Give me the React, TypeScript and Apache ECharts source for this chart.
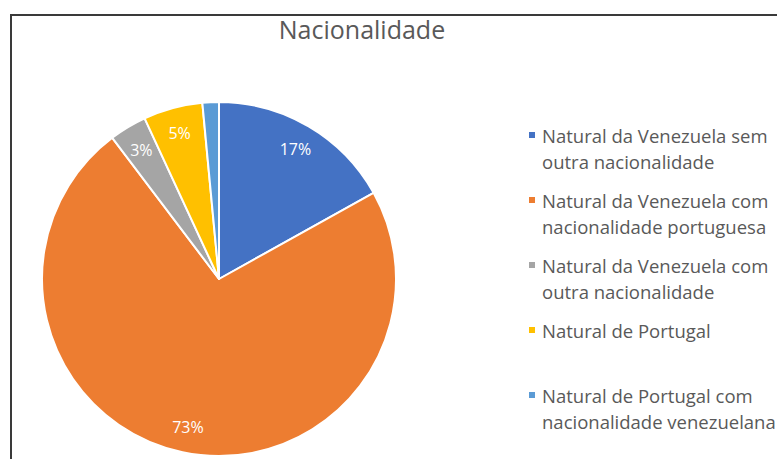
import React, { useEffect, useRef } from "react";
import * as echarts from "echarts";

const titleText = "Nacionalidade";
const categories = [
  "Natural da Venezuela sem outra nacionalidade",
  "Natural da Venezuela com nacionalidade portuguesa",
  "Natural da Venezuela com outra nacionalidade",
  "Natural de Portugal",
  "Natural de Portugal com nacionalidade venezuelana",
];
const legendLines = [
  " \nNatural da Venezuela sem\noutra nacionalidade",
  " \nNatural da Venezuela com\nnacionalidade portuguesa",
  " \nNatural da Venezuela com\noutra nacionalidade",
  " \nNatural de Portugal\n ",
  " \nNatural de Portugal com\nnacionalidade venezuelana",
];
const values = [16.9, 72.8, 3.4, 5.4, 1.5];
const colors = ["#4472C4", "#ED7D31", "#A5A5A5", "#FFC000", "#5B9BD5"];
const showLabel = [true, true, true, true, false];

export default function App() {
  const ref = useRef<HTMLDivElement>(null);
  useEffect(() => {
    if (!ref.current) return;
    const chart = echarts.init(ref.current, undefined, { renderer: "svg" });
    const font = "'Open Sans', 'Noto Sans', sans-serif";
    chart.setOption({
      animation: false,
      backgroundColor: "#fff",
      title: {
        text: titleText,
        left: 357,
        top: 11,
        textAlign: "center",
        textStyle: { color: "#595959", fontSize: 25, fontWeight: "normal", fontFamily: font },
      },
      graphic: [
        {
          type: "rect",
          shape: { x: 11, y: 15, width: 900, height: 600 },
          style: { fill: "none", stroke: "#3a3a3a", lineWidth: 2 },
          silent: true,
        },
      ],
      legend: {
        orient: "vertical",
        left: 527,
        top: 96,
        padding: 0,
        itemGap: -13,
        itemWidth: 8,
        itemHeight: 8,
        icon: "rect",
        data: categories.map((n, i) => ({ name: n, itemStyle: { color: colors[i] } })),
        formatter: (name: string) => legendLines[categories.indexOf(name)],
        textStyle: {
          color: "#595959",
          fontSize: 18.5,
          fontFamily: font,
          lineHeight: 26,
          padding: [0, 0, 0, 1],
        },
      },
      series: [
        {
          type: "pie",
          center: [219, 279],
          radius: 177,
          startAngle: 90,
          clockwise: true,
          avoidLabelOverlap: false,
          label: { show: false },
          labelLine: { show: false },
          itemStyle: { borderColor: "#fff", borderWidth: 2 },
          emphasis: { disabled: true },
          data: categories.map((n, i) => ({
            name: n,
            value: values[i],
            itemStyle: { color: colors[i] },
          })),
        },
        {
          type: "pie",
          center: [219, 279],
          radius: [119, 177],
          startAngle: 90,
          clockwise: true,
          silent: true,
          avoidLabelOverlap: false,
          labelLine: { show: false },
          emphasis: { disabled: true },
          label: {
            show: true,
            position: "inside",
            color: "#fff",
            fontSize: 16,
            fontFamily: font,
            formatter: (p: any) => `${Math.round(p.percent)}%`,
          },
          data: categories.map((n, i) => ({
            name: n,
            value: values[i],
            itemStyle: { color: "rgba(0,0,0,0)", borderWidth: 0 },
            label: { show: showLabel[i] },
          })),
        },
      ],
    });
    return () => chart.dispose();
  }, []);
  return (
    <div
      ref={ref}
      style={{ position: "absolute", left: 0, top: 0, width: 777, height: 459 }}
    />
  );
}
